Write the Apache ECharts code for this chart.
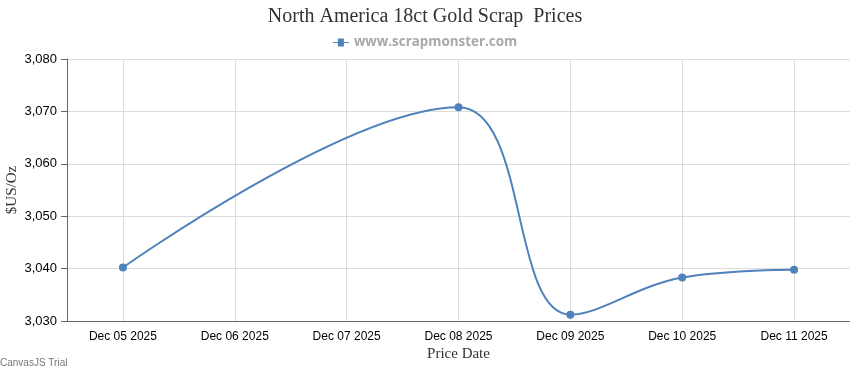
<!DOCTYPE html>
<html>
<head>
<meta charset="utf-8">
<script src="https://cdn.jsdelivr.net/npm/echarts@6/dist/echarts.min.js"></script>
<style>
html,body{margin:0;padding:0;background:#fff;}
#c{width:850px;height:370px;}
</style>
</head>
<body>
<div id="c"></div>
<script>
const categories = ['Dec 05 2025','Dec 06 2025','Dec 07 2025','Dec 08 2025','Dec 09 2025','Dec 10 2025','Dec 11 2025'];
const pointDates = ['Dec 05 2025','Dec 08 2025','Dec 09 2025','Dec 10 2025','Dec 11 2025'];
const pointValues = [3040.2, 3070.8, 3031.2, 3038.3, 3039.8];
const yMin = 3030, yMax = 3080, yStep = 10;

const chart = echarts.init(document.getElementById('c'), null, {renderer:'canvas'});
chart.setOption({
  animation:false,
  backgroundColor:'#fff',
  title:{
    text:'North America 18ct Gold Scrap  Prices',
    left:'center', top:2,
    textStyle:{fontFamily:'Liberation Serif, serif', fontSize:20, fontWeight:'normal', color:'#333'}
  },
  legend:{
    top:31, left:'center',
    itemWidth:16, itemHeight:8, itemGap:4,
    data:[{name:'www.scrapmonster.com', icon:'path://M0,3.5L5,3.5L5,0L11,0L11,3.5L16,3.5L16,4.5L11,4.5L11,8L5,8L5,4.5L0,4.5Z'}],
    textStyle:{fontFamily:'Open Sans, sans-serif', fontSize:13.4, fontWeight:'bold', color:'#a8a8a8'}
  },
  grid:{left:67, right:0, top:59, bottom:49, containLabel:false, outerBoundsMode:'none'},
  xAxis:{
    type:'category', data:categories, boundaryGap:true,
    name:'Price Date', nameLocation:'middle', nameGap:26, nameMoveOverlap:false,
    nameTextStyle:{fontFamily:'Liberation Serif, serif', fontSize:15, color:'#333'},
    axisLine:{lineStyle:{color:'#666', width:1}},
    axisTick:{alignWithLabel:true, length:5, lineStyle:{color:'#666'}},
    axisLabel:{margin:10, fontFamily:'Liberation Sans, Arial, sans-serif', fontSize:12, color:'#000', interval:0},
    splitLine:{show:true, alignWithLabel:true, lineStyle:{color:'#dcdcdc', width:1}}
  },
  yAxis:{
    type:'value', min:yMin, max:yMax, interval:yStep,
    name:'$US/Oz', nameLocation:'middle', nameGap:47, nameRotate:90, nameMoveOverlap:false,
    nameTextStyle:{fontFamily:'Liberation Serif, serif', fontSize:15, color:'#333'},
    axisLine:{show:true, lineStyle:{color:'#666', width:1}},
    axisTick:{show:true, length:6, lineStyle:{color:'#666'}},
    axisLabel:{margin:10, fontFamily:'Liberation Sans, Arial, sans-serif', fontSize:13, color:'#000',
      formatter:function(v){return v.toLocaleString('en-US');}},
    splitLine:{show:true, lineStyle:{color:'#dcdcdc', width:1}}
  },
  series:[{
    name:'www.scrapmonster.com',
    type:'line',
    smooth:0.4,
    data:pointDates.map(function(d,i){return [d, pointValues[i]];}),
    symbol:'circle', symbolSize:8,
    itemStyle:{color:'#4F81BC'},
    lineStyle:{color:'#4F81BC', width:2},
    clip:true
  }],
  graphic:[{
    type:'text', left:0, top:358,
    style:{text:'CanvasJS Trial', fontFamily:'Liberation Sans, Arial, sans-serif', fontSize:10, fill:'#777'}
  }]
});
</script>
</body>
</html>
